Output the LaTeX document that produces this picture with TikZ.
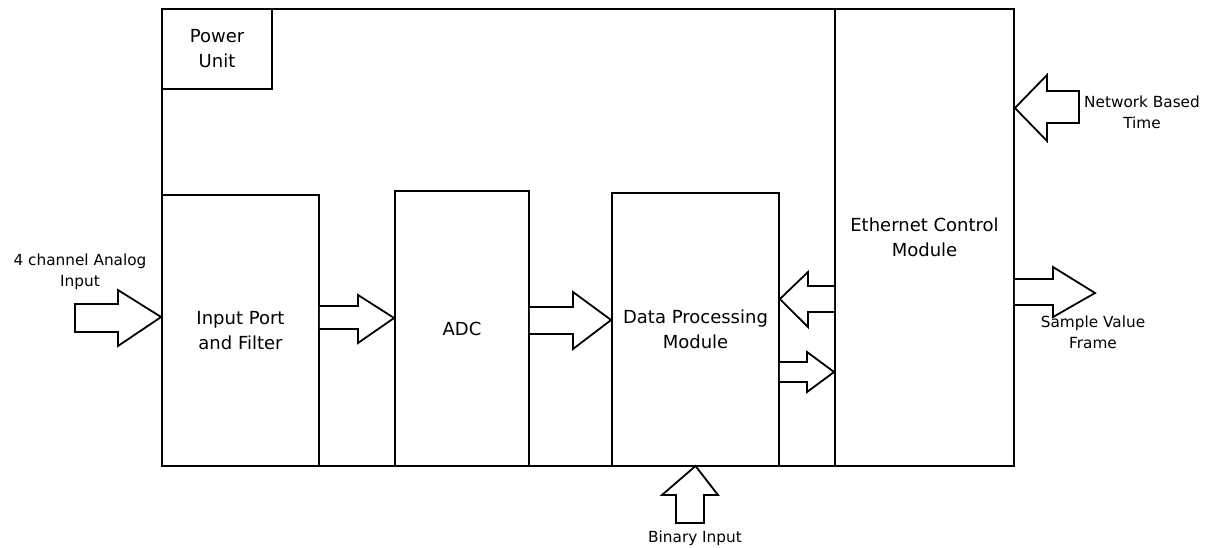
\documentclass[tikz,border=0pt]{standalone}
\usepackage{fontspec}
\setmainfont{DejaVu Sans}
\begin{document}
\begin{tikzpicture}[x=1pt,y=-1pt,
  box/.style={draw,line width=1.8pt,inner sep=0pt,align=center,font=\fontsize{18}{25}\selectfont},
  outerbox/.style={draw,line width=2.6pt,inner sep=0pt},
  barrow/.style={draw,line width=1.8pt,fill=white,line join=miter},
  lbl/.style={align=center,inner sep=0pt,font=\fontsize{15.3}{21}\selectfont}]
\useasboundingbox (0,0) rectangle (1206,548);
\fill[white] (0,0) rectangle (1206,548);
% outer frame
\node[outerbox,minimum width=852pt,minimum height=457pt] (outer) at (588,237.5) {};
% blocks
\node[box,minimum width=110pt,minimum height=80pt] (power) at (217,49) {Power\\Unit};
\node[box,minimum width=157pt,minimum height=271pt] (inport) at (240.5,330.5) {Input Port\\and Filter};
\node[box,minimum width=134pt,minimum height=275pt] (adc) at (462,328.5) {ADC};
\node[box,minimum width=167pt,minimum height=273pt] (dpm) at (695.5,329.5) {Data Processing\\Module};
\node[box,minimum width=179pt,minimum height=457pt] (eth) at (924.5,237.5) {Ethernet Control\\Module};
% labels
\node[lbl] (lanalog) at (80,272) {4 channel Analog\\Input};
\node[lbl] (ltime) at (1142,112) {Network Based\\Time};
\node[lbl] (lsv) at (1093,332) {Sample Value\\Frame};
\node[lbl] (lbin) at (695,538) {Binary Input};
% analog input arrow
\draw[barrow] (75,304) -- (118,304) -- (118,290) -- (inport.west |- 0,317) -- (118,346) -- (118,332) -- (75,332) -- cycle;
% input port -> ADC
\draw[barrow] (inport.east |- 0,306) -- (358,306) -- (358,295) -- (adc.west |- 0,318) -- (358,343) -- (358,329) -- (inport.east |- 0,329);
% ADC -> DPM
\draw[barrow] (adc.east |- 0,307) -- (573,307) -- (573,292) -- (dpm.west |- 0,320) -- (573,349) -- (573,334) -- (adc.east |- 0,334);
% Ethernet -> DPM
\draw[barrow] (eth.west |- 0,286) -- (808,286) -- (808,272) -- (dpm.east |- 0,299) -- (808,327) -- (808,312) -- (eth.west |- 0,312);
% DPM -> Ethernet
\draw[barrow] (dpm.east |- 0,362) -- (807,362) -- (807,352) -- (eth.west |- 0,372) -- (807,392) -- (807,382) -- (dpm.east |- 0,382);
% Network based time
\draw[barrow] (1079,91) -- (1047,91) -- (1047,75) -- (eth.east |- 0,108) -- (1047,141) -- (1047,123) -- (1079,123) -- cycle;
% Sample value frame
\draw[barrow] (eth.east |- 0,279) -- (1053,279) -- (1053,267) -- (1095,293) -- (1053,317) -- (1053,305) -- (eth.east |- 0,305);
% Binary input
\draw[barrow] (676,523) -- (676,495) -- (662,495) -- (dpm.south |- 0,466) -- (718,495) -- (704,495) -- (704,523) -- cycle;
\end{tikzpicture}
\end{document}
